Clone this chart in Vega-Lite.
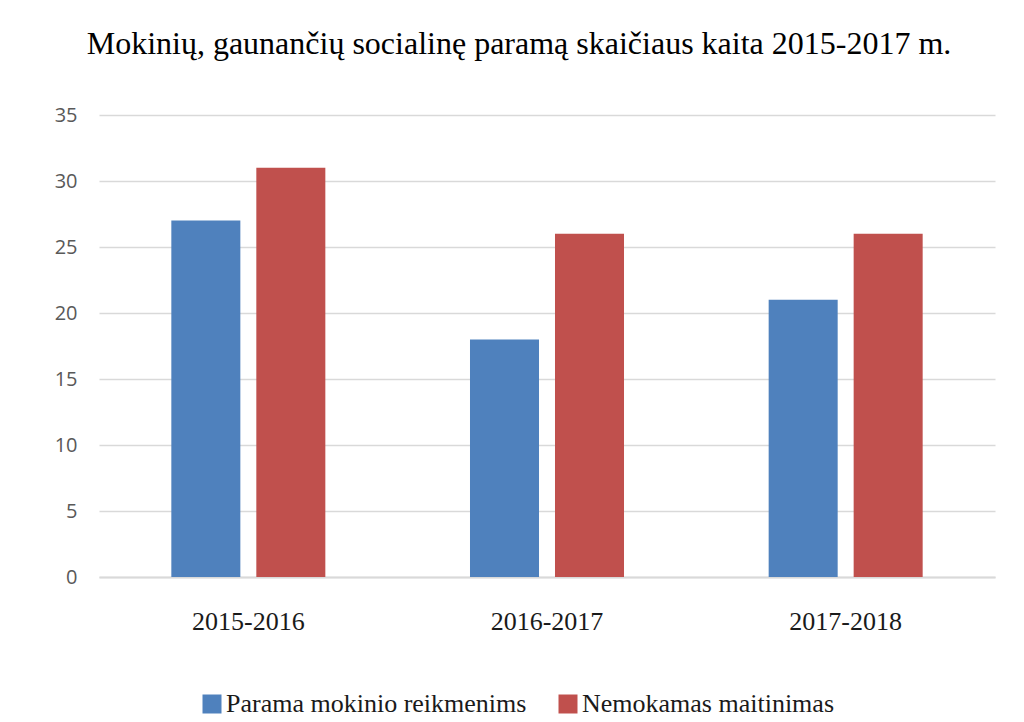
{
  "$schema": "https://vega.github.io/schema/vega-lite/v6.json",
  "autosize": {"type": "none"},
  "width": 896,
  "height": 462,
  "padding": {"left": 99, "top": 115, "right": 29, "bottom": 145},
  "background": "#ffffff",
  "title": {
    "text": "Mokinių, gaunančių socialinę paramą skaičiaus kaita 2015-2017 m.",
    "font": "Liberation Serif",
    "fontSize": 32,
    "fontWeight": "normal",
    "color": "#000000",
    "anchor": "middle",
    "baseline": "alphabetic",
    "offset": 19,
    "dx": -28
  },
  "data": {
    "values": [
      {"metai": "2015-2016", "serija": "Parama mokinio reikmenims", "kiekis": 27},
      {"metai": "2015-2016", "serija": "Nemokamas maitinimas", "kiekis": 31},
      {"metai": "2016-2017", "serija": "Parama mokinio reikmenims", "kiekis": 18},
      {"metai": "2016-2017", "serija": "Nemokamas maitinimas", "kiekis": 26},
      {"metai": "2017-2018", "serija": "Parama mokinio reikmenims", "kiekis": 21},
      {"metai": "2017-2018", "serija": "Nemokamas maitinimas", "kiekis": 26}
    ]
  },
  "mark": {"type": "bar"},
  "encoding": {
    "x": {
      "field": "metai",
      "type": "nominal",
      "scale": {"paddingInner": 0, "paddingOuter": 0},
      "axis": {
        "title": null,
        "labelAngle": 0,
        "labelFont": "Liberation Serif",
        "labelFontSize": 26,
        "labelColor": "#1a1a1a",
        "labelPadding": 31,
        "ticks": false,
        "domainColor": "#d9d9d9",
        "domainWidth": 2,
        "grid": false
      }
    },
    "xOffset": {
      "field": "serija",
      "type": "nominal",
      "sort": ["Parama mokinio reikmenims", "Nemokamas maitinimas"],
      "scale": {"paddingInner": 0.188, "paddingOuter": 0.851}
    },
    "y": {
      "field": "kiekis",
      "type": "quantitative",
      "scale": {"domain": [0, 35]},
      "axis": {
        "title": null,
        "values": [0, 5, 10, 15, 20, 25, 30, 35],
        "labelFont": "Open Sans",
        "labelFontSize": 20,
        "labelColor": "#595959",
        "labelPadding": 22,
        "ticks": false,
        "domain": false,
        "grid": true,
        "gridColor": "#d9d9d9",
        "gridWidth": 1.5
      }
    },
    "color": {
      "field": "serija",
      "type": "nominal",
      "sort": ["Parama mokinio reikmenims", "Nemokamas maitinimas"],
      "scale": {
        "domain": ["Parama mokinio reikmenims", "Nemokamas maitinimas"],
        "range": ["#4f81bd", "#c0504d"]
      },
      "legend": {
        "title": null,
        "orient": "none",
        "direction": "horizontal",
        "legendX": 100,
        "legendY": 576,
        "symbolType": "square",
        "symbolSize": 361,
        "symbolStrokeWidth": 0,
        "symbolOpacity": 1,
        "labelFont": "Liberation Serif",
        "labelFontSize": 26,
        "labelColor": "#1a1a1a",
        "labelOffset": 1,
        "columnPadding": 28,
        "padding": 0,
        "labelLimit": 400
      }
    }
  },
  "config": {
    "view": {"stroke": null}
  }
}
